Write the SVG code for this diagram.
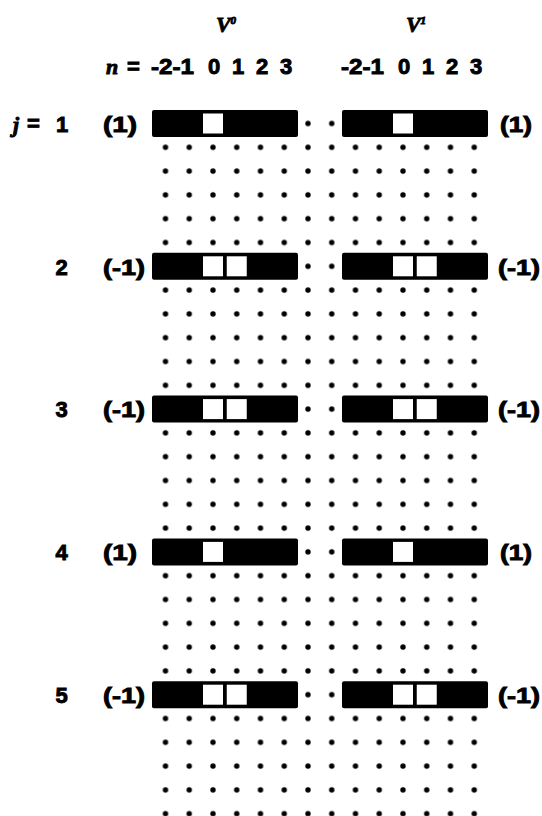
<svg xmlns="http://www.w3.org/2000/svg" width="542" height="816" viewBox="0 0 542 816">
  <style>
    .t { font-family: "Liberation Sans", Arial, sans-serif; font-weight: bold; font-size: 22px; fill: #000; stroke: #000; stroke-width: 0.9px; }
    .m { text-anchor: middle; }
    .it { font-family: "Liberation Serif", "Times New Roman", serif; font-style: italic; font-weight: bold; }
    .bar { fill: #000; }
    .sq { fill: #fff; }
  </style>
  <defs>
    <pattern id="dots" patternUnits="userSpaceOnUse" x="153.625" y="111.6" width="23.75" height="23.8">
      <circle cx="11.875" cy="11.9" r="2.7" fill="#000"/>
    </pattern>
  </defs>
  <rect width="542" height="816" fill="#fff"/>

  <!-- dot grid -->
  <g id="grid">
    <rect x="153.625" y="111.6" width="332.5" height="704.4" fill="url(#dots)"/>
  </g>

  <!-- header -->
  <g id="header">
    <text class="t it m" x="226" y="32" font-size="20" stroke-width="0.4">V<tspan font-size="11" dy="-8">0</tspan></text>
    <text class="t it m" x="416" y="32" font-size="20" stroke-width="0.4">V<tspan font-size="11" dy="-8">1</tspan></text>
    <text class="t it" x="106" y="74" font-size="25">n</text>
    <text class="t" x="127" y="74" font-weight="normal" stroke-width="0.5">=</text>
    <text class="t" x="151" y="74" textLength="43" lengthAdjust="spacingAndGlyphs">-2-1</text>
    <text class="t m" x="214" y="74">0</text>
    <text class="t m" x="238" y="74">1</text>
    <text class="t m" x="262" y="74">2</text>
    <text class="t m" x="286" y="74">3</text>
    <text class="t" x="341" y="74" textLength="43" lengthAdjust="spacingAndGlyphs">-2-1</text>
    <text class="t m" x="404" y="74">0</text>
    <text class="t m" x="428" y="74">1</text>
    <text class="t m" x="452" y="74">2</text>
    <text class="t m" x="476" y="74">3</text>
  </g>

  <!-- j = 1 -->
  <g id="row1">
    <text class="t it" x="13" y="132" font-size="24">j</text>
    <text class="t" x="27" y="131" font-weight="normal" stroke-width="0.5">=</text>
    <text class="t m" x="62" y="131.5">1</text>
    <text class="t" x="103" y="131.5" textLength="34" lengthAdjust="spacingAndGlyphs">(1)</text>
    <rect class="bar" x="152" y="110" width="146" height="27" rx="2"/>
    <rect class="sq" x="203" y="113.5" width="20" height="20"/>
    <rect class="bar" x="342" y="110" width="146" height="27" rx="2"/>
    <rect class="sq" x="393" y="113.5" width="20" height="20"/>
    <text class="t" x="500" y="131.5" textLength="32" lengthAdjust="spacingAndGlyphs">(1)</text>
  </g>

  <!-- j = 2 -->
  <g id="row2">
    <text class="t m" x="61.5" y="274.5">2</text>
    <text class="t" x="103" y="274.5" textLength="42" lengthAdjust="spacingAndGlyphs">(-1)</text>
    <rect class="bar" x="152" y="252.8" width="146" height="27" rx="2"/>
    <rect class="sq" x="203" y="256.3" width="20" height="20"/>
    <rect class="sq" x="226.75" y="256.3" width="20" height="20"/>
    <rect class="bar" x="342" y="252.8" width="146" height="27" rx="2"/>
    <rect class="sq" x="393" y="256.3" width="20" height="20"/>
    <rect class="sq" x="416.75" y="256.3" width="20" height="20"/>
    <text class="t" x="498" y="274.5" textLength="42" lengthAdjust="spacingAndGlyphs">(-1)</text>
  </g>

  <!-- j = 3 -->
  <g id="row3">
    <text class="t m" x="61.5" y="417.3">3</text>
    <text class="t" x="103" y="417.3" textLength="42" lengthAdjust="spacingAndGlyphs">(-1)</text>
    <rect class="bar" x="152" y="395.6" width="146" height="27" rx="2"/>
    <rect class="sq" x="203" y="399.1" width="20" height="20"/>
    <rect class="sq" x="226.75" y="399.1" width="20" height="20"/>
    <rect class="bar" x="342" y="395.6" width="146" height="27" rx="2"/>
    <rect class="sq" x="393" y="399.1" width="20" height="20"/>
    <rect class="sq" x="416.75" y="399.1" width="20" height="20"/>
    <text class="t" x="498" y="417.3" textLength="42" lengthAdjust="spacingAndGlyphs">(-1)</text>
  </g>

  <!-- j = 4 -->
  <g id="row4">
    <text class="t m" x="61.5" y="560.1">4</text>
    <text class="t" x="103" y="560.1" textLength="34" lengthAdjust="spacingAndGlyphs">(1)</text>
    <rect class="bar" x="152" y="538.4" width="146" height="27" rx="2"/>
    <rect class="sq" x="203" y="541.9" width="20" height="20"/>
    <rect class="bar" x="342" y="538.4" width="146" height="27" rx="2"/>
    <rect class="sq" x="393" y="541.9" width="20" height="20"/>
    <text class="t" x="500" y="560.1" textLength="32" lengthAdjust="spacingAndGlyphs">(1)</text>
  </g>

  <!-- j = 5 -->
  <g id="row5">
    <text class="t m" x="61.5" y="702.9">5</text>
    <text class="t" x="103" y="702.9" textLength="42" lengthAdjust="spacingAndGlyphs">(-1)</text>
    <rect class="bar" x="152" y="681.2" width="146" height="27" rx="2"/>
    <rect class="sq" x="203" y="684.7" width="20" height="20"/>
    <rect class="sq" x="226.75" y="684.7" width="20" height="20"/>
    <rect class="bar" x="342" y="681.2" width="146" height="27" rx="2"/>
    <rect class="sq" x="393" y="684.7" width="20" height="20"/>
    <rect class="sq" x="416.75" y="684.7" width="20" height="20"/>
    <text class="t" x="498" y="702.9" textLength="42" lengthAdjust="spacingAndGlyphs">(-1)</text>
  </g>

  <g id="connectors"/>
</svg>
